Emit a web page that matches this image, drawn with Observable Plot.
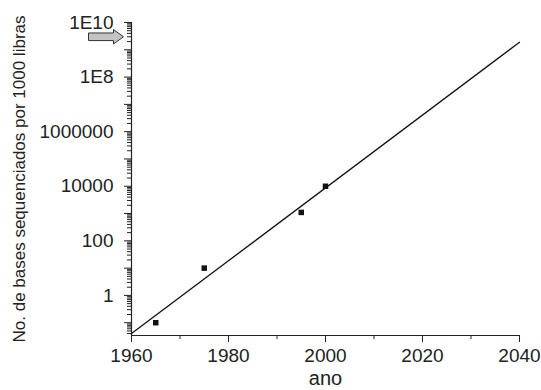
<!DOCTYPE html>
<html><head><meta charset="utf-8">
<script src="https://cdn.jsdelivr.net/npm/d3@7"></script>
<script src="https://cdn.jsdelivr.net/npm/@observablehq/plot@0.6"></script>
<style>body{margin:0;background:#fff}</style>
</head><body><div id="chart"></div>
<script>
// data
const years = [1965, 1975, 1995, 2000];
const bases = [0.1, 10, 1100, 10000];
const fitYears = [1960, 2040];
const fitBases = [0.04, 1.9e9];
const arrowYears = [1960];
const arrowBases = [3e9];
const xTicks = [1960, 1980, 2000, 2020, 2040];
const xMinorTicks = [1970, 1990, 2010, 2030];
const yTickValues = [1, 100, 10000, 1e6, 1e8, 1e10];
const yTickLabels = ["1", "100", "10000", "1000000", "1E8", "1E10"];
const yDecades = [0.1, 1, 10, 100, 1e3, 1e4, 1e5, 1e6, 1e7, 1e8, 1e9, 1e10];
const xTitle = "ano";
const yTitle = "No. de bases sequenciados por 1000 libras";
const xDomain = [1960, 2040];
const yDomain = [0.034, 1e10];

const labelMap = new Map(yTickValues.map((v, i) => [v, yTickLabels[i]]));
const yMinor = [];
for (const d of [0.01, ...yDecades]) for (let m = 2; m <= 9; m++) {
  const v = m * d; if (v >= yDomain[0] && v <= yDomain[1]) yMinor.push(v);
}
const points = years.map((y, i) => ({year: y, value: bases[i]}));
const fit = fitYears.map((y, i) => ({year: y, value: fitBases[i]}));
const arrow = arrowYears.map((y, i) => ({year: y, value: arrowBases[i]}));

const blockArrow = {
  draw(ctx) {
    ctx.moveTo(-17.5, -3.8); ctx.lineTo(7.5, -3.8); ctx.lineTo(7.5, -7.2);
    ctx.lineTo(17.5, 0); ctx.lineTo(7.5, 7.2); ctx.lineTo(7.5, 3.8);
    ctx.lineTo(-17.5, 3.8); ctx.closePath();
  }
};
const ink = "#222";
const font = "'Liberation Sans', Arial, Helvetica, sans-serif";

const chart = Plot.plot({
  width: 541, height: 390,
  marginLeft: 131, marginRight: 22, marginTop: 22, marginBottom: 55,
  style: {fontFamily: font, color: ink, background: "#fff"},
  x: {domain: xDomain},
  y: {type: "log", domain: yDomain},
  marks: [
    Plot.axisY(yMinor, {tickSize: 4, tickFormat: () => "", stroke: ink, label: null}),
    Plot.axisY(yDecades, {tickSize: 7, tickPadding: 11, fontSize: 19, fill: ink, stroke: ink,
      tickFormat: d => labelMap.get(d) ?? "", label: null}),
    Plot.axisX(xMinorTicks, {tickSize: 4, tickFormat: () => "", stroke: ink, label: null}),
    Plot.axisX(xTicks, {tickSize: 7, tickPadding: 6, fontSize: 19, fill: ink, stroke: ink,
      tickFormat: d => String(d), label: null}),
    Plot.ruleX([xDomain[0]], {stroke: ink, strokeWidth: 1.2}),
    Plot.ruleY([yDomain[0]], {stroke: ink, strokeWidth: 1.2}),
    Plot.line(fit, {x: "year", y: "value", stroke: "#111", strokeWidth: 1.3}),
    Plot.dot(points, {x: "year", y: "value", symbol: "square", r: 3.1, fill: "#111"}),
    Plot.dot(arrow, {x: "year", y: "value", symbol: blockArrow, dx: -25.5, fill: "#c4c4c4", stroke: "#333", strokeWidth: 1}),
    Plot.text([yTitle], {frameAnchor: "left", dx: -112, rotate: -90, textAnchor: "middle", lineAnchor: "middle", fontSize: 17, fill: ink}),
    Plot.text([xTitle], {frameAnchor: "bottom", dy: 43, textAnchor: "middle", lineAnchor: "middle", fontSize: 20, fill: ink})
  ]
});
document.getElementById("chart").appendChild(chart);
</script>
</body></html>
